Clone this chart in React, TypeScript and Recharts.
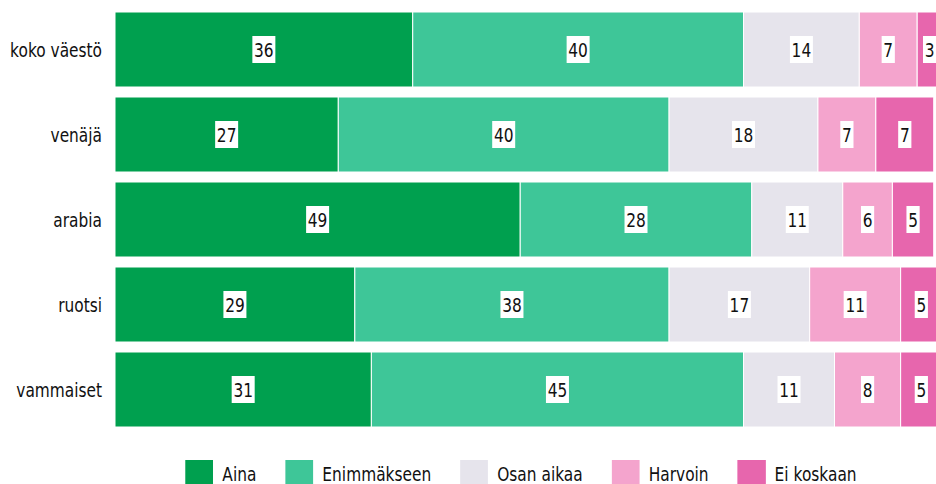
import React from 'react';
import { BarChart, Bar, XAxis, YAxis, LabelList, Legend } from 'recharts';

const categories = ['koko väestö', 'venäjä', 'arabia', 'ruotsi', 'vammaiset'];
const aina = [36, 27, 49, 29, 31];
const enimmakseen = [40, 40, 28, 38, 45];
const osanAikaa = [14, 18, 11, 17, 11];
const harvoin = [7, 7, 6, 11, 8];
const eiKoskaan = [3, 7, 5, 5, 5];

const seriesNames = ['Aina', 'Enimmäkseen', 'Osan aikaa', 'Harvoin', 'Ei koskaan'];
const seriesKeys = ['aina', 'enim', 'osan', 'harvoin', 'ei'];
const seriesColors = ['#00A04F', '#3EC698', '#E6E4EC', '#F4A4CD', '#E766AD'];

const data = categories.map((c, i) => ({
  name: c,
  aina: aina[i],
  enim: enimmakseen[i],
  osan: osanAikaa[i],
  harvoin: harvoin[i],
  ei: eiKoskaan[i],
}));

const FONT = '"DejaVu Sans", sans-serif';
const SX = 0.77;

const BoxLabel = (props: any) => {
  const { x, y, width, height, value } = props;
  const cx = Number(x) + Number(width) / 2;
  const cy = Number(y) + Number(height) / 2;
  const text = String(value);
  const w = text.length * 9.8 + 3.4;
  return (
    <g>
      <rect x={cx - w / 2} y={cy - 13.5} width={w} height={27} fill="#fff" />
      <text
        transform={`translate(${cx} ${cy}) scale(${SX} 1)`}
        x={0}
        y={0}
        dy={7.3}
        textAnchor="middle"
        fontFamily={FONT}
        fontSize={20}
        fill="#111"
      >
        {text}
      </text>
    </g>
  );
};

const CatTick = (props: any) => {
  const { x, y, payload } = props;
  return (
    <text
      transform={`translate(${x} ${y}) scale(${SX} 1)`}
      x={0}
      y={0}
      dy={7.5}
      textAnchor="end"
      fontFamily={FONT}
      fontSize={20}
      fill="#111"
    >
      {payload.value}
    </text>
  );
};

const LegendContent = () => (
  <div
    style={{
      display: 'flex',
      justifyContent: 'center',
      alignItems: 'flex-start',
      fontFamily: FONT,
      fontSize: 20,
      color: '#111',
      transform: `scaleX(${SX})`,
      transformOrigin: 'center',
      whiteSpace: 'nowrap',
    }}
  >
    {seriesNames.map((n, i) => (
      <div
        key={n}
        style={{ display: 'flex', alignItems: 'flex-start', marginRight: i < seriesNames.length - 1 ? 29 / SX : 0 }}
      >
        <span style={{ display: 'inline-block', width: 28 / SX, height: 24, background: seriesColors[i], marginRight: 9 / SX }} />
        <span style={{ display: 'inline-block', lineHeight: '19px', height: 19, marginTop: 4.5 }}>{n}</span>
      </div>
    ))}
  </div>
);

export default function App() {
  return (
    <div style={{ position: 'fixed', left: 0, top: 0, width: 936, height: 484, overflow: 'hidden', background: '#fff' }}>
      <BarChart
        width={944}
        height={484}
        data={data}
        layout="vertical"
        margin={{ top: 7, right: 2, bottom: 52, left: 0 }}
        barCategoryGap={5}
      >
        <XAxis type="number" domain={[0, 100]} hide />
        <YAxis
          type="category"
          dataKey="name"
          width={115}
          axisLine={false}
          tickLine={false}
          tickSize={0}
          tickMargin={13}
          tick={<CatTick />}
        />
        <Legend
          verticalAlign="middle"
          layout="horizontal"
          align="center"
          wrapperStyle={{ top: 460, left: 0, width: 1042 }}
          content={<LegendContent />}
        />
        {seriesKeys.map((k, i) => (
          <Bar
            key={k}
            dataKey={k}
            name={seriesNames[i]}
            stackId="a"
            fill={seriesColors[i]}
            stroke="#fff"
            strokeWidth={1}
            isAnimationActive={false}
          >
            <LabelList dataKey={k} content={<BoxLabel />} />
          </Bar>
        ))}
      </BarChart>
    </div>
  );
}
